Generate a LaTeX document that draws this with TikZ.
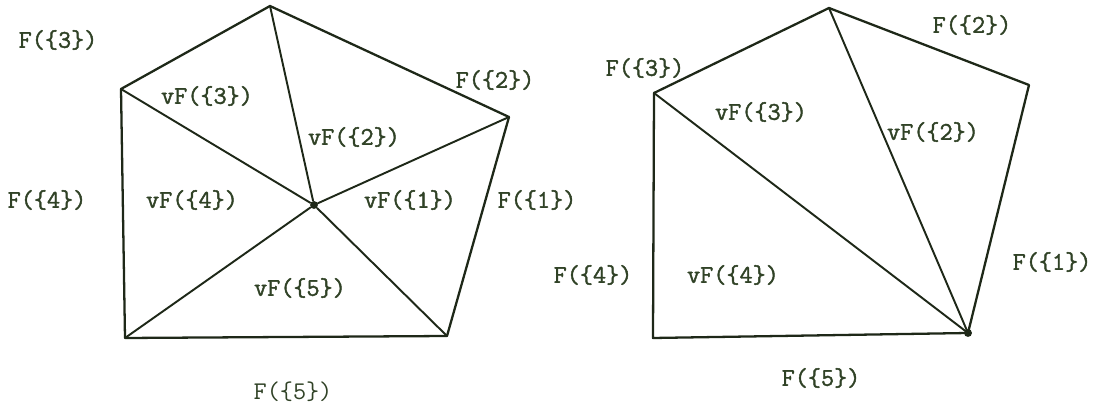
\documentclass[tikz,border=0pt]{standalone}
\usepackage{fontspec}
\newfontfamily\typebold{Latin Modern Mono}[FakeBold=1.6]
\usetikzlibrary{positioning}
\definecolor{ink}{RGB}{30,40,24}
\definecolor{txt}{RGB}{48,66,38}

\begin{document}
\begin{tikzpicture}[
    x=0.02cm, y=-0.02cm,
    face/.style={font=\typebold\fontsize{14.5}{17}\selectfont, text=txt, inner sep=0pt},
    facelt/.style={font=\ttfamily\fontsize{14.5}{17}\selectfont, text=txt, inner sep=0pt},
    edge/.style={draw=ink, line width=1.3pt, line join=round, line cap=round},
    spoke/.style={draw=ink, line width=1.1pt, line cap=round},
    dot/.style={circle, fill=ink, inner sep=0pt, minimum size=4.5pt}
]
\useasboundingbox (0,0) rectangle (1096,408);

% left: star subdivision
\coordinate (a1) at (509,117);
\coordinate (a2) at (270,6);
\coordinate (a3) at (121,89);
\coordinate (a4) at (125,338);
\coordinate (a5) at (447,336);
\node[dot] (ac) at (314,205) {};
\draw[edge] (a1) -- (a2) -- (a3) -- (a4) -- (a5) -- cycle;
\foreach \k in {1,...,5}
  \draw[spoke] (ac) -- (a\k);

\node[face] (lf3) at (58,40) {F(\{3\})};
\node[face] (lf2) at (495,80) {F(\{2\})};
\node[face] (lf4) at (47,200) {F(\{4\})};
\node[face] (lf1) at (537,200) {F(\{1\})};
\node[facelt] (lf5) at (293,392) {F(\{5\})};
\node[face] (lv3) at (207,96) {vF(\{3\})};
\node[face] (lv2) at (354,137) {vF(\{2\})};
\node[face] (lv4) at (192,200) {vF(\{4\})};
\node[face] (lv1) at (410,200) {vF(\{1\})};
\node[face] (lv5) at (300,288) {vF(\{5\})};

% right: fan from one vertex
\coordinate (b1) at (1029,85);
\coordinate (b2) at (829,8);
\coordinate (b3) at (654,93);
\coordinate (b4) at (653,338);
\node[dot] (b5) at (968,333) {};
\draw[edge] (b1) -- (b2) -- (b3) -- (b4) -- (b5.center) -- cycle;
\draw[spoke] (b5.center) -- (b2);
\draw[spoke] (b5.center) -- (b3);

\node[face] (rf3) at (645,68) {F(\{3\})};
\node[face] (rf2) at (972,25) {F(\{2\})};
\node[face] (rf4) at (593,275) {F(\{4\})};
\node[face] (rf1) at (1052,262) {F(\{1\})};
\node[face] (rf5) at (821,378) {F(\{5\})};
\node[face] (rv3) at (761,112) {vF(\{3\})};
\node[face] (rv2) at (933,132) {vF(\{2\})};
\node[face] (rv4) at (733,275) {vF(\{4\})};
\end{tikzpicture}
\end{document}
